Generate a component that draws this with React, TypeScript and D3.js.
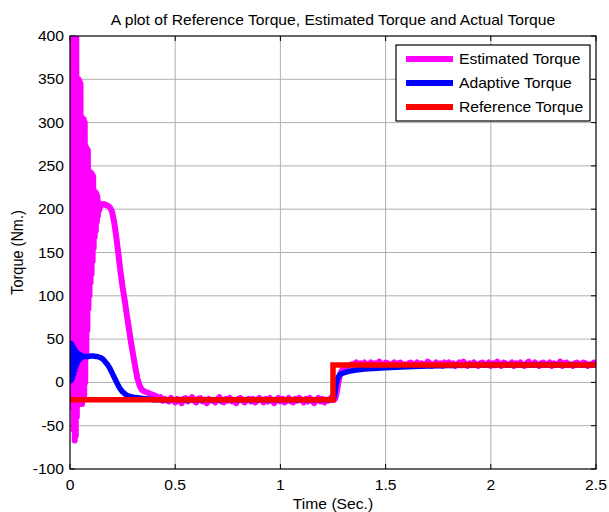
import React from "react";
import * as d3 from "d3";

// ---------- data ----------
const xTicks = [0, 0.5, 1, 1.5, 2, 2.5];
const yTicks = [-100, -50, 0, 50, 100, 150, 200, 250, 300, 350, 400];

const legendLabels = ["Estimated Torque", "Adaptive Torque", "Reference Torque"];
const seriesColors = ["#ff00ff", "#0000ff", "#ff0000"];

// Estimated torque: fast oscillation at start (sampled every 0.0025 s from t=0)
const estOscStart = 0;
const estOscStep = 0.0025;
const estOscValues = [
  400, -25, 400, -20, 400, -30, 400, -55, 400, -67,
  400, -62, 398, -40, 350, -25, 350, -22, 348, -25,
  345, -20, 306, -25, 305, -20, 304, -15, 300, 0,
  272, 30, 270, 60, 268, 85, 243, 100, 243, 115,
  242, 125, 240, 140, 238, 155, 220, 168, 220, 175,
  218, 185, 215, 192, 208, 198, 207, 202, 206,
];
// Estimated torque: descent
const estDescT = [0.15, 0.16, 0.17, 0.18, 0.19, 0.2, 0.21, 0.22, 0.23, 0.24, 0.25, 0.26, 0.27, 0.28, 0.29, 0.3, 0.31, 0.32, 0.33, 0.34, 0.35];
const estDescV = [205, 206, 205, 204, 202, 197, 185, 168, 148, 128, 110, 95, 78, 62, 46, 32, 18, 5, -3, -8, -10];
// Estimated torque: first plateau (every 0.01 s from 0.36 to 1.25)
const estPlat1Start = 0.36;
const estPlatStep = 0.01;
const estPlat1 = [
  -11, -12, -13, -14, -15, -16, -18, -17, -21, -19,
  -21, -22, -18, -20, -23, -19, -21, -24, -19, -18,
  -22, -20, -17, -21, -23, -19, -18, -22, -20, -24,
  -19, -21, -20, -23, -20, -17, -22, -23, -19, -21,
  -18, -22, -21, -24, -19, -18, -21, -23, -20, -19,
  -22, -19, -23, -21, -18, -20, -23, -19, -22, -18,
  -21, -24, -20, -18, -22, -19, -23, -21, -18, -22,
  -23, -19, -21, -18, -20, -23, -19, -22, -18, -21,
  -24, -20, -18, -22, -19, -23, -20, -21, -18, -20,
];
// Estimated torque: step response
const estStepT = [1.255, 1.26, 1.265, 1.27, 1.275, 1.28, 1.285, 1.29, 1.3, 1.31, 1.32, 1.33, 1.34];
const estStepV = [-20, -19, -15, -8, -1, 5, 10, 13, 16, 18, 19, 20, 21];
// Estimated torque: second plateau (every 0.01 s from 1.35 to 2.50)
const estPlat2Start = 1.35;
const estPlat2 = [
  21, 23, 20, 22, 19, 23, 21, 20, 23, 19, 22, 21, 24, 20, 19, 23, 22, 20, 21, 23,
  19, 22, 23, 20, 21, 19, 22, 23, 21, 20, 23, 19, 22, 21, 20, 24, 22, 19, 21, 23,
  20, 22, 19, 23, 21, 23, 20, 22, 19, 21, 23, 20, 24, 21, 19, 22, 20, 23, 21, 19,
  22, 23, 20, 21, 23, 19, 22, 20, 24, 21, 19, 23, 22, 20, 21, 23, 19, 22, 21, 23,
  20, 19, 22, 24, 21, 20, 23, 21, 19, 22, 23, 20, 21, 23, 19, 22, 20, 21, 24, 19,
  22, 23, 20, 21, 19, 22, 23, 21, 20, 23, 22, 19, 21, 20, 23, 22,
];

// Adaptive torque
const adOscStart = 0;
const adOscStep = 0.0025;
const adOscValues = [44, 2, 45, 3, 43, 6, 41, 10, 39, 14, 37, 18, 35, 21, 34, 24, 33, 26, 32, 27, 32, 28, 31, 29, 30];
const adT = [
  0.07, 0.08, 0.09, 0.1, 0.11, 0.12, 0.13, 0.14, 0.15, 0.16, 0.17, 0.18, 0.19, 0.2, 0.21, 0.22, 0.23, 0.24, 0.25,
  0.26, 0.27, 0.28, 0.3, 0.33, 0.36, 0.4, 0.7, 1.0, 1.25, 1.255, 1.26, 1.265, 1.27, 1.275, 1.28, 1.29, 1.3, 1.32,
  1.35, 1.4, 1.5, 1.6, 1.7, 1.8, 2.0, 2.5,
];
const adV = [
  30, 30, 30, 30.5, 30.5, 30, 30, 29, 28, 26, 23, 20, 16, 11, 6, 1, -4, -8, -11,
  -13, -15, -16, -17, -18, -19, -20, -20, -20, -20, -17, -10, -2, 3, 6, 8, 10, 11, 12.5,
  14, 15.5, 17, 18, 19, 19.5, 20, 20,
];

// Reference torque
const refT = [0, 1.25, 1.25, 2.5];
const refV = [-20, -20, 20, 20];

// ---------- layout ----------
const W = 609;
const H = 512;
const L = 70;
const R = 596;
const T = 36;
const B = 469;
const SX = 1.08; // horizontal stretch of the text in the reference

type P = [number, number];

function sampled(start: number, step: number, vals: number[]): P[] {
  return vals.map((v, i) => [start + i * step, v] as P);
}
function paired(ts: number[], vs: number[]): P[] {
  return ts.map((t, i) => [t, vs[i]] as P);
}

function SText(props: { x: number; y: number; anchor?: string; size: number; children: React.ReactNode }) {
  return (
    <text
      transform={`translate(${props.x},${props.y}) scale(${SX},1)`}
      textAnchor={props.anchor || "start"}
      fontSize={props.size}
      fill="#000"
    >
      {props.children}
    </text>
  );
}

export default function App() {
  const x = d3.scaleLinear().domain([0, 2.5]).range([L, R]);
  const y = d3.scaleLinear().domain([-100, 400]).range([B, T]);
  const line = d3
    .line<P>()
    .x((d) => x(d[0]))
    .y((d) => y(d[1]));

  const est: P[] = [
    ...sampled(estOscStart, estOscStep, estOscValues),
    ...paired(estDescT, estDescV),
    ...sampled(estPlat1Start, estPlatStep, estPlat1),
    ...paired(estStepT, estStepV),
    ...sampled(estPlat2Start, estPlatStep, estPlat2),
  ];
  const ad: P[] = [...sampled(adOscStart, adOscStep, adOscValues), ...paired(adT, adV)];
  const ref: P[] = paired(refT, refV);

  const font = "Arial, 'Liberation Sans', Helvetica, sans-serif";
  const tickLen = 5;

  const legX = 396;
  const legY = 45;
  const legW = 194;
  const legH = 76;
  const rowY = [59, 83, 107];

  return (
    <div style={{ position: "fixed", left: 0, top: 0, width: W, height: H, background: "#fff" }}>
      <svg width={W} height={H} style={{ display: "block" }} fontFamily={font}>
        <defs>
          <clipPath id="plotclip">
            <rect x={L} y={T} width={R - L} height={B - T} />
          </clipPath>
        </defs>
        <rect x={0} y={0} width={W} height={H} fill="#fff" />
        {/* grid */}
        <g stroke="#b0b0b0" strokeWidth={1}>
          {xTicks.slice(1, -1).map((t) => (
            <line key={"gx" + t} x1={x(t)} x2={x(t)} y1={T} y2={B} />
          ))}
          {yTicks.slice(1, -1).map((t) => (
            <line key={"gy" + t} x1={L} x2={R} y1={y(t)} y2={y(t)} />
          ))}
        </g>
        {/* ticks */}
        <g stroke="#000" strokeWidth={1}>
          {xTicks.map((t) => (
            <g key={"tx" + t}>
              <line x1={x(t)} x2={x(t)} y1={B} y2={B - tickLen} />
              <line x1={x(t)} x2={x(t)} y1={T} y2={T + tickLen} />
            </g>
          ))}
          {yTicks.map((t) => (
            <g key={"ty" + t}>
              <line x1={L} x2={L + tickLen} y1={y(t)} y2={y(t)} />
              <line x1={R} x2={R - tickLen} y1={y(t)} y2={y(t)} />
            </g>
          ))}
        </g>
        {/* series */}
        <g clipPath="url(#plotclip)" fill="none" strokeLinejoin="round" strokeLinecap="round">
          <path d={line(est) || ""} stroke={seriesColors[0]} strokeWidth={6} />
          <path d={line(ad) || ""} stroke={seriesColors[1]} strokeWidth={5.5} />
          <path d={line(ref) || ""} stroke={seriesColors[2]} strokeWidth={5.5} strokeLinecap="butt" strokeLinejoin="miter" />
        </g>
        {/* axes box */}
        <rect x={L} y={T} width={R - L} height={B - T} fill="none" stroke="#000" strokeWidth={1.2} />
        {/* tick labels */}
        {xTicks.map((t) => (
          <SText key={"lx" + t} x={x(t)} y={B + 21} anchor="middle" size={14.5}>
            {String(t)}
          </SText>
        ))}
        {yTicks.map((t) => (
          <SText key={"ly" + t} x={L - 6} y={y(t) + 5} anchor="end" size={14.5}>
            {String(t)}
          </SText>
        ))}
        {/* axis labels */}
        <SText x={(L + R) / 2} y={509} anchor="middle" size={14.5}>
          Time (Sec.)
        </SText>
        <text transform={`translate(23, ${(T + B) / 2}) rotate(-90) scale(1,${SX})`} textAnchor="middle" fontSize={14.5}>
          Torque (Nm.)
        </text>
        {/* title */}
        <SText x={(L + R) / 2} y={25} anchor="middle" size={14.5}>
          A plot of Reference Torque, Estimated Torque and Actual Torque
        </SText>
        {/* legend */}
        <rect x={legX} y={legY} width={legW} height={legH} fill="#fff" stroke="#000" strokeWidth={1.2} />
        {legendLabels.map((lab, i) => (
          <g key={lab}>
            <line x1={406} x2={453} y1={rowY[i]} y2={rowY[i]} stroke={seriesColors[i]} strokeWidth={6} />
            <SText x={459} y={rowY[i] + 5} size={14.5}>
              {lab}
            </SText>
          </g>
        ))}
      </svg>
    </div>
  );
}
